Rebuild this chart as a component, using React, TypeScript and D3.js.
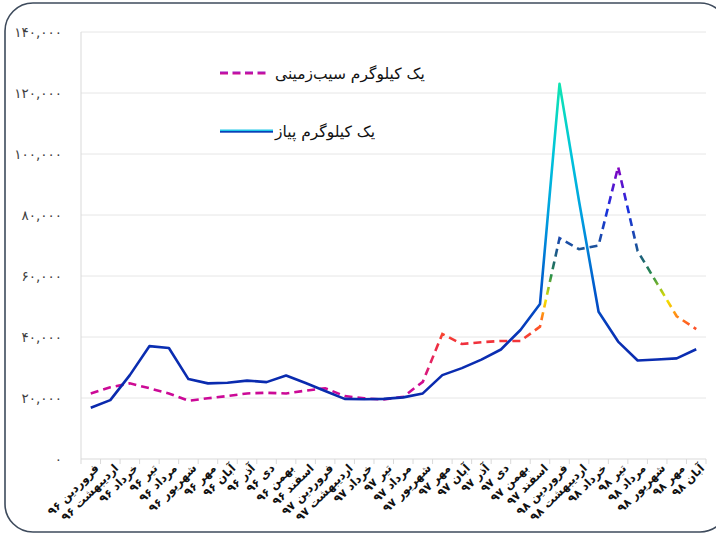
import React from "react";
import * as d3 from "d3";

const months = ["فروردین", "اردیبهشت", "خرداد", "تیر", "مرداد", "شهریور", "مهر", "آبان", "آذر", "دی", "بهمن", "اسفند"];
const categories: string[] = [
  ...months.map((m) => m + " ۹۶"),
  ...months.map((m) => m + " ۹۷"),
  ...months.slice(0, 8).map((m) => m + " ۹۸"),
];

const potato = [
  21500, 23500, 24800, 23200, 21500, 19100, 19900, 20650, 21500, 21700, 21500, 22400,
  23200, 20650, 19900, 19500, 20400, 25300, 41000, 37700, 38300, 38700, 38700, 43400,
  72400, 68800, 70000, 95800, 68200, 57500, 46800, 42600,
];
const onion = [
  16800, 19300, 27500, 37000, 36400, 26200, 24800, 25000, 25700, 25200, 27400, 24900,
  22300, 19700, 19600, 19700, 20200, 21500, 27500, 29800, 32600, 35900, 42300, 50800,
  123000, 84500, 48300, 38500, 32300, 32600, 33000, 36000,
];
const yTicks = [0, 20000, 40000, 60000, 80000, 100000, 120000, 140000];
const legendPotato = "یک کیلوگرم سیب‌زمینی";
const legendOnion = "یک کیلوگرم پیاز";

const potatoStops: [number, string][] = [
  [0, "#c8009a"], [24000, "#cc0a96"], [30000, "#e0206e"], [38000, "#f0303c"], [44000, "#ff5a24"],
  [48000, "#ff9a10"], [52000, "#f2e200"], [56000, "#9cc420"], [60000, "#2a9048"], [64000, "#1f6c66"],
  [70000, "#1b50a0"], [82000, "#1830e0"], [96000, "#8800c0"], [140000, "#9000c0"],
];
const onionStops: [number, string][] = [
  [0, "#0a24a8"], [38000, "#0a2eb2"], [55000, "#0058cc"], [80000, "#00a0e0"], [100000, "#00c4da"],
  [124000, "#10e6b0"], [140000, "#10e8a8"],
];

const toFa = (s: string) => s.replace(/[0-9]/g, (d) => "۰۱۲۳۴۵۶۷۸۹"[+d]);

export default function App() {
  const W = 716, H = 535;
  const left = 81, right = 706, top = 32, bottom = 459;
  const x = d3.scaleBand<number>().domain(d3.range(categories.length)).range([left, right]);
  const y = d3.scaleLinear().domain([0, 140000]).range([bottom, top]);
  const cx = (i: number) => (x(i) as number) + x.bandwidth() / 2;
  const line = d3.line<number>().x((_, i) => cx(i)).y((v) => y(v));
  const fmt = d3.format(",");
  const font = "'DejaVu Sans', sans-serif";

  return (
    <svg width={W} height={H} style={{ position: "absolute", left: 0, top: 0, background: "#fff" }}>
      <defs>
        <linearGradient id="gPot" gradientUnits="userSpaceOnUse" x1={0} x2={0} y1={y(0)} y2={y(140000)}>
          {potatoStops.map(([v, c], i) => (
            <stop key={i} offset={v / 140000} stopColor={c} />
          ))}
        </linearGradient>
        <linearGradient id="gOn" gradientUnits="userSpaceOnUse" x1={0} x2={0} y1={y(0)} y2={y(140000)}>
          {onionStops.map(([v, c], i) => (
            <stop key={i} offset={v / 140000} stopColor={c} />
          ))}
        </linearGradient>
        <linearGradient id="lgOn" x1="0" x2="0" y1="0" y2="1">
          <stop offset="0" stopColor="#20c8e8" />
          <stop offset="0.45" stopColor="#20c8e8" />
          <stop offset="0.55" stopColor="#0a40b8" />
          <stop offset="1" stopColor="#0a40b8" />
        </linearGradient>
        <linearGradient id="lgPot" x1="0" x2="0" y1="0" y2="1">
          <stop offset="0" stopColor="#a020c0" />
          <stop offset="0.45" stopColor="#c010a8" />
          <stop offset="1" stopColor="#d0108c" />
        </linearGradient>
      </defs>
      <rect x={5} y={3} width={723} height={529} rx={28} ry={28} fill="none" stroke="#3e4b5c" strokeWidth={1.6} />
      {yTicks.map((t) => (
        <g key={t}>
          {t > 0 && <line x1={left} x2={right} y1={y(t)} y2={y(t)} stroke="#e6e6e6" strokeWidth={1} />}
          <text x={62} y={y(t) + 5} textAnchor="end" fontSize={13.5} fill="#404040" fontFamily={font} letterSpacing={0.6}>
            {toFa(fmt(t))}
          </text>
        </g>
      ))}
      <line x1={left} x2={left} y1={top} y2={bottom} stroke="#d9d9d9" />
      <line x1={left} x2={right} y1={bottom} y2={bottom} stroke="#d9d9d9" />
      {d3.range(categories.length + 1).map((i) => {
        const xx = i < categories.length ? (x(i) as number) : right;
        return <line key={i} x1={xx} x2={xx} y1={bottom} y2={bottom + 5} stroke="#d9d9d9" />;
      })}
      {categories.map((c, i) => (
        <text
          key={i}
          transform={`translate(${cx(i) + 6},${bottom + 7}) rotate(-45)`}
          textAnchor="end"
          fontSize={11.5}
          fontWeight="bold"
          fill="#111"
          fontFamily={font}
          dy="0.35em"
        >
          {c}
        </text>
      ))}
      <path d={line(potato) || ""} fill="none" stroke="url(#gPot)" strokeWidth={2.6} strokeDasharray="8,5" />
      <path d={line(onion) || ""} fill="none" stroke="url(#gOn)" strokeWidth={2.6} strokeLinejoin="round" />
      {d3.range(4).map((k) => (
        <rect key={k} x={220 + k * 12.5} y={71.5} width={8} height={3} fill="url(#lgPot)" />
      ))}
      <text x={275} y={79} fontSize={15.5} fill="#111" fontFamily={font}>{legendPotato}</text>
      <rect x={220} y={129.5} width={53} height={3.2} fill="url(#lgOn)" />
      <text x={275} y={137} fontSize={15.5} fill="#111" fontFamily={font}>{legendOnion}</text>
    </svg>
  );
}
